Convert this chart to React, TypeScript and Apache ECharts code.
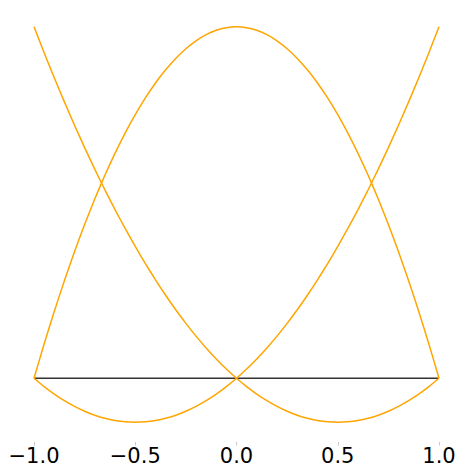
import React, { useEffect, useRef } from "react";
import * as echarts from "echarts";

const xs = [
  -1, -0.95, -0.9, -0.85, -0.8, -0.75, -0.7, -0.65, -0.6, -0.55, -0.5, -0.45, -0.4, -0.35, -0.3, -0.25, -0.2, -0.15, -0.1, -0.05,
  0, 0.05, 0.1, 0.15, 0.2, 0.25, 0.3, 0.35, 0.4, 0.45, 0.5, 0.55, 0.6, 0.65, 0.7, 0.75, 0.8, 0.85, 0.9, 0.95, 1,
];
const leftCurve = [
  1, 0.92625, 0.855, 0.78625, 0.72, 0.65625, 0.595, 0.53625, 0.48, 0.42625, 0.375, 0.32625, 0.28, 0.23625, 0.195, 0.15625, 0.12, 0.08625, 0.055, 0.02625,
  0, -0.02375, -0.045, -0.06375, -0.08, -0.09375, -0.105, -0.11375, -0.12, -0.12375, -0.125, -0.12375, -0.12, -0.11375, -0.105, -0.09375, -0.08, -0.06375, -0.045, -0.02375, 0,
];
const middleCurve = [
  0, 0.0975, 0.19, 0.2775, 0.36, 0.4375, 0.51, 0.5775, 0.64, 0.6975, 0.75, 0.7975, 0.84, 0.8775, 0.91, 0.9375, 0.96, 0.9775, 0.99, 0.9975,
  1, 0.9975, 0.99, 0.9775, 0.96, 0.9375, 0.91, 0.8775, 0.84, 0.7975, 0.75, 0.6975, 0.64, 0.5775, 0.51, 0.4375, 0.36, 0.2775, 0.19, 0.0975, 0,
];
const rightCurve = [
  0, -0.02375, -0.045, -0.06375, -0.08, -0.09375, -0.105, -0.11375, -0.12, -0.12375, -0.125, -0.12375, -0.12, -0.11375, -0.105, -0.09375, -0.08, -0.06375, -0.045, -0.02375,
  0, 0.02625, 0.055, 0.08625, 0.12, 0.15625, 0.195, 0.23625, 0.28, 0.32625, 0.375, 0.42625, 0.48, 0.53625, 0.595, 0.65625, 0.72, 0.78625, 0.855, 0.92625, 1,
];
const baseX = [-1, 1];
const baseY = [0, 0];
const xTicks = [-1, -0.5, 0, 0.5, 1];

export default function App() {
  const ref = useRef<HTMLDivElement>(null);
  useEffect(() => {
    if (!ref.current) return;
    document.body.style.margin = "0";
    const chart = echarts.init(ref.current, null, { renderer: "svg" });
    const pair = (a: number[], b: number[]) => a.map((v, i) => [v, b[i]]);
    const orange = (d: number[]) => ({
      type: "line",
      data: pair(xs, d),
      smooth: 0.2,
      showSymbol: false,
      lineStyle: { color: "#FFA500", width: 1.5 },
      z: 3,
    });
    chart.setOption({
      animation: false,
      grid: { left: 34, right: 28, top: 7, bottom: 34 },
      xAxis: {
        type: "value",
        min: -1,
        max: 1,
        interval: 0.5,
        axisLine: { show: false, onZero: false },
        splitLine: { show: false },
        axisTick: { show: true, length: 3.5, lineStyle: { color: "#bbb", width: 0.8 } },
        axisLabel: {
          color: "#000",
          fontSize: 21,
          fontFamily: "DejaVu Sans",
          margin: 3,
          formatter: (v: number) => {
            if (!xTicks.includes(Math.round(v * 10) / 10)) return "";
            return v.toFixed(1).replace("-", "\u2212");
          },
        },
      },
      yAxis: {
        type: "value",
        min: -0.18125,
        max: 1.05625,
        show: false,
      },
      series: [
        {
          type: "line",
          data: pair(baseX, baseY),
          showSymbol: false,
          lineStyle: { color: "#333", width: 1.5 },
          z: 2,
        },
        orange(leftCurve),
        orange(middleCurve),
        orange(rightCurve),
      ],
    });
    return () => chart.dispose();
  }, []);
  return <div ref={ref} style={{ width: 467, height: 476 }} />;
}
